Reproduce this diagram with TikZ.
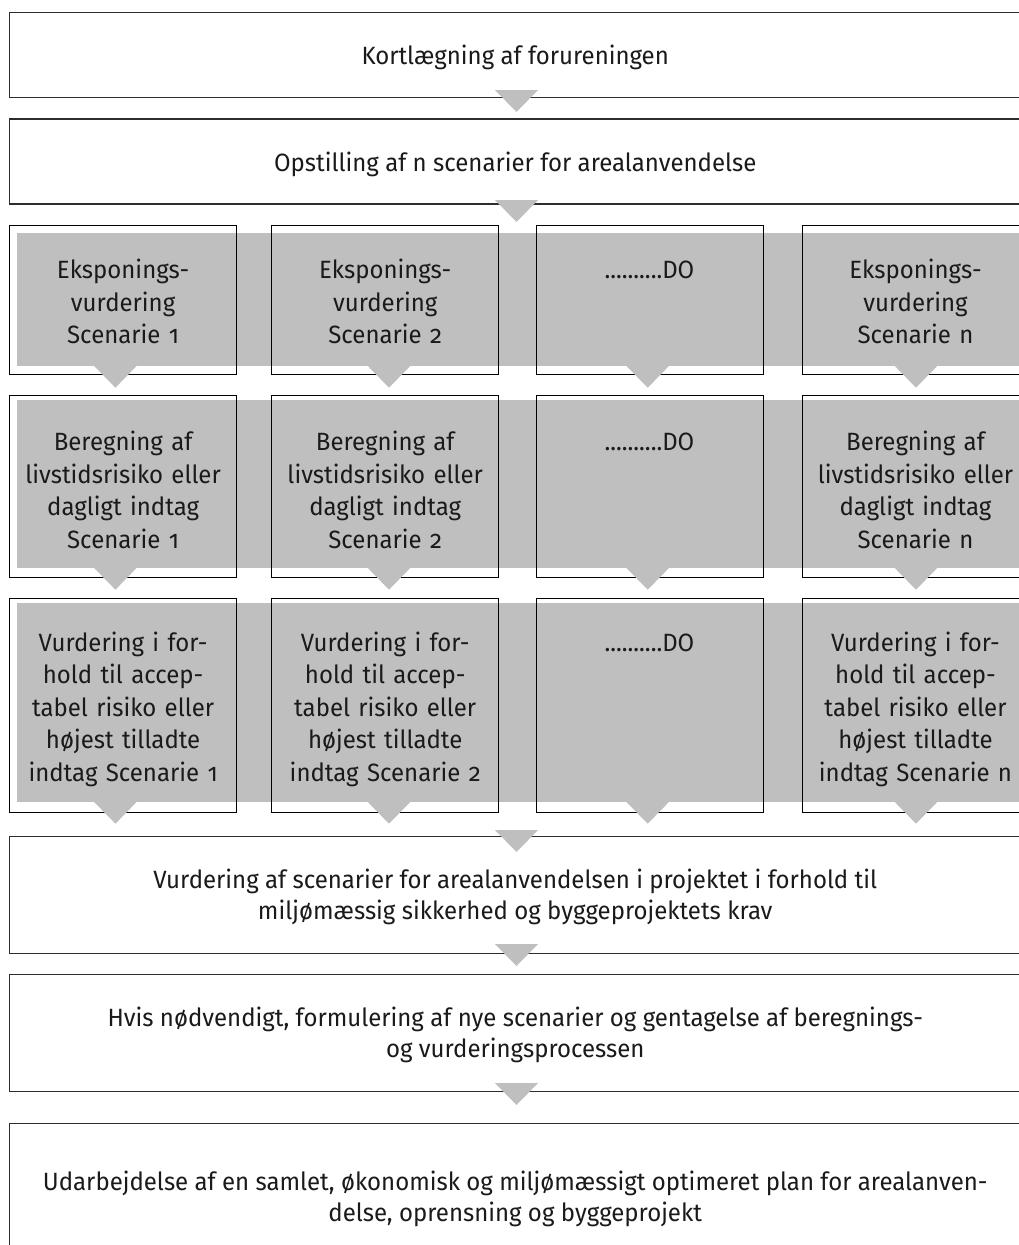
\documentclass[tikz,border=0pt]{standalone}
\usepackage{fontspec}
\setmainfont{Fira Sans}[Numbers=OldStyle, FakeStretch=0.96]
\usetikzlibrary{calc}
\definecolor{greyc}{RGB}{191,191,191}
\definecolor{linec}{RGB}{45,45,45}
\definecolor{txtc}{RGB}{26,26,26}
\tikzset{
  bigbox/.style={draw=linec, line width=1.3pt, fill=white, inner sep=0pt, outer sep=0pt, minimum width=1011.5pt},
  colbox/.style={draw=black, line width=1pt, inner sep=0pt, outer sep=0pt, minimum width=227pt},
  band/.style={fill=greyc, draw=none},
  coltext/.style={text=txtc, anchor=base, text width=225pt, align=center, inner sep=0pt, font=\fontsize{25}{32.5}\selectfont},
  bigtext/.style={text=txtc, anchor=center, align=center, inner sep=0pt, font=\fontsize{25}{31}\selectfont},
  downtri/.pic={\fill[greyc] (-21.5,0) -- (21.5,0) -- (0,22) -- cycle;}
}
\begin{document}
\begin{tikzpicture}[x=1pt,y=-1pt]
\useasboundingbox (0,0) rectangle (1019,1245);
\clip (0,0) rectangle (1019,1245);
% big boxes
\node[bigbox, minimum height=85pt] (b1) at (515.25,55.2) {};
\node[bigbox, minimum height=85pt] (b2) at (515.25,161.5) {};
\node[bigbox, minimum height=116.6pt] (b3) at (515.25,895) {};
\node[bigbox, minimum height=117.4pt] (b4) at (515.25,1033) {};
\node[bigbox, minimum height=150pt] (b5) at (515.25,1198.5) {};
% grey bands
\fill[band] (16.5,232.7) rectangle (1030,365.7);
\fill[band] (16.5,400) rectangle (1030,567.7);
\fill[band] (16.5,603) rectangle (1030,801.7);
% column boxes
\foreach \c/\x in {1/123.1,2/385.2,3/649.5,4/915.5}{
  \node[colbox, minimum height=148.6pt] (r1c\c) at (\x,300) {};
  \node[colbox, minimum height=181.6pt] (r2c\c) at (\x,486.5) {};
  \node[colbox, minimum height=213.7pt] (r3c\c) at (\x,705.15) {};
}
% triangles between big boxes
\path (b1.south) ++(1.25,-7.7) pic {downtri};
\path (b2.south) ++(1.25,-4) pic {downtri};
\path (b3.north) ++(1.25,-6.7) pic {downtri};
\path (b3.south) ++(1.25,-9.3) pic {downtri};
\path (b4.south) ++(1.25,-8.7) pic {downtri};
% triangles below columns
\foreach \c/\dx in {1/-7.7,2/3.8,3/-1.8,4/0.5}{
  \path (r1c\c.south) ++(\dx,-8.6) pic {downtri};
  \path (r2c\c.south) ++(\dx,-9.6) pic {downtri};
  \path (r3c\c.south) ++(\dx,-10.3) pic {downtri};
}
% texts
\node[bigtext] (t1) at ($(b1.center)+(0,2)$) {Kortlægning af forureningen};
\node[bigtext] (t2) at ($(b2.center)+(0,3)$) {Opstilling af n scenarier for arealanvendelse};
\node[bigtext] (t3) at ($(b3.center)+(0,2)$) {Vurdering af scenarier for arealanvendelsen i projektet i forhold til\\miljømæssig sikkerhed og byggeprojektets krav};
\node[bigtext] (t4) at ($(b4.center)+(0,2)$) {Hvis nødvendigt, formulering af nye scenarier og gentagelse af beregnings-\\og vurderingsprocessen};
\node[bigtext] (t5) at (515.25,1198.5) {Udarbejdelse af en samlet, økonomisk og miljømæssigt optimeret plan for arealanven-\\delse, oprensning og byggeprojekt};
\node[coltext] (x11) at ($(r1c1.north)+(0,53)$) {Eksponings-\\vurdering\\Scenarie 1};
\node[coltext] (x12) at ($(r1c2.north)+(0,53)$) {Eksponings-\\vurdering\\Scenarie 2};
\node[coltext] (x13) at ($(r1c3.north)+(0,53)$) {..........DO};
\node[coltext] (x14) at ($(r1c4.north)+(0,53)$) {Eksponings-\\vurdering\\Scenarie n};
\node[coltext] (x21) at ($(r2c1.north)+(0,55)$) {Beregning af\\livstidsrisiko eller\\dagligt indtag\\Scenarie 1};
\node[coltext] (x22) at ($(r2c2.north)+(0,55)$) {Beregning af\\livstidsrisiko eller\\dagligt indtag\\Scenarie 2};
\node[coltext] (x23) at ($(r2c3.north)+(0,55)$) {..........DO};
\node[coltext] (x24) at ($(r2c4.north)+(0,55)$) {Beregning af\\livstidsrisiko eller\\dagligt indtag\\Scenarie n};
\node[coltext] (x31) at ($(r3c1.north)+(0,53)$) {Vurdering i for-\\hold til accep-\\tabel risiko eller\\højest tilladte\\indtag Scenarie 1};
\node[coltext] (x32) at ($(r3c2.north)+(0,53)$) {Vurdering i for-\\hold til accep-\\tabel risiko eller\\højest tilladte\\indtag Scenarie 2};
\node[coltext] (x33) at ($(r3c3.north)+(0,53)$) {..........DO};
\node[coltext] (x34) at ($(r3c4.north)+(0,53)$) {Vurdering i for-\\hold til accep-\\tabel risiko eller\\højest tilladte\\indtag Scenarie n};
\end{tikzpicture}
\end{document}
